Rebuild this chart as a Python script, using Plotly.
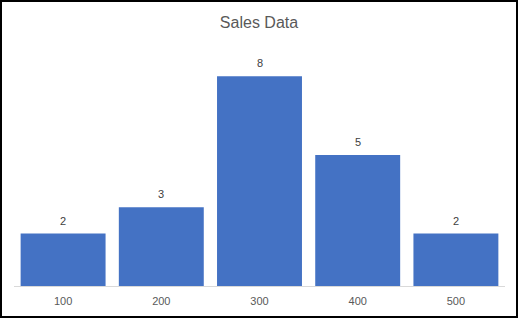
import plotly.graph_objects as go

categories = ["100", "200", "300", "400", "500"]
values = [2, 3, 8, 5, 2]

W, H = 518, 318
ml, mr, mt, mb = 14, 13, 50, 32
pw, ph = W - ml - mr, H - mt - mb

fig = go.Figure(go.Bar(
    x=categories, y=values,
    marker=dict(color="#4472C4", line=dict(width=0)),
    cliponaxis=False,
))

for i, v in enumerate(values):
    fig.add_annotation(x=i, y=v, text=str(v), showarrow=False, yanchor="middle",
                       yshift=13, font=dict(size=11, color="#404040", family="Liberation Sans"))

fig.update_layout(
    width=W, height=H,
    margin=dict(l=ml, r=mr, t=mt, b=mb),
    paper_bgcolor="white", plot_bgcolor="white",
    bargap=0.135,
    showlegend=False,
    title=dict(text="Sales Data", x=0.5, xanchor="center", y=1 - 22 / H, yanchor="middle",
               font=dict(size=16, color="#595959", family="Liberation Sans")),
    xaxis=dict(type="category", range=[-0.5, len(categories) - 0.5],
               showline=True, linecolor="#D9D9D9", linewidth=1,
               showgrid=False, ticks="", ticklabelstandoff=5,
               tickfont=dict(size=11, color="#595959", family="Liberation Sans")),
    yaxis=dict(range=[0, 9], visible=False, showgrid=False),
)

fig.add_shape(type="rect", xref="paper", yref="paper",
              x0=(1 - ml) / pw, x1=(W - 1 - ml) / pw,
              y0=(mt + ph - (H - 1)) / ph, y1=(mt + ph - 1) / ph,
              line=dict(color="#000000", width=2), fillcolor="rgba(0,0,0,0)", layer="above")

fig.write_html("out.html")
